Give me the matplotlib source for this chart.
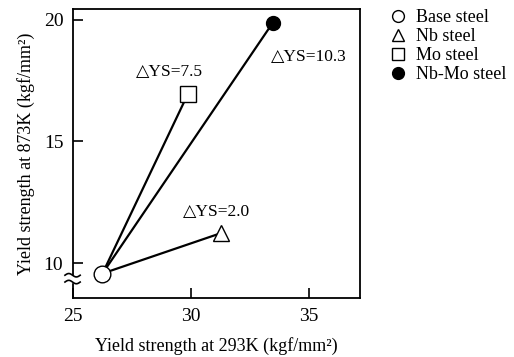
import numpy as np
import matplotlib
matplotlib.use("Agg")
import matplotlib.pyplot as plt
from matplotlib.lines import Line2D
import matplotlib.transforms as mtransforms

plt.rcParams["font.family"] = ["Liberation Serif", "DejaVu Sans"]

# data (kgf/mm^2)
steels = ["Base steel", "Nb steel", "Mo steel", "Nb-Mo steel"]
ys_293 = [26.25, 31.27, 29.87, 33.47]
ys_873 = [9.57, 11.23, 16.95, 19.88]
markers = ["o", "^", "s", "o"]
fills = ["white", "white", "white", "black"]
sizes = [12, 11, 11, 10]
delta_labels = [None, "△YS=2.0", "△YS=7.5", "△YS=10.3"]
label_pos = [None, (29.66, 12.10), (27.67, 17.86), (33.39, 18.48)]

fig = plt.figure(figsize=(5.14, 3.57), dpi=100)
ax = fig.add_axes([0.142, 0.165, 0.558, 0.810])

# lines from base steel to each alloyed steel
for i in range(1, 4):
    ax.plot([ys_293[0], ys_293[i]], [ys_873[0], ys_873[i]], color="k", lw=1.6,
            zorder=2)

for i in range(4):
    ax.plot(ys_293[i], ys_873[i], marker=markers[i], ms=sizes[i],
            mfc=fills[i], mec="k", mew=1.0, ls="none", zorder=3)
    if delta_labels[i]:
        ax.text(label_pos[i][0], label_pos[i][1], delta_labels[i], fontsize=12.5,
                va="center", ha="left")

ax.set_xlim(25, 37.16)
ax.set_ylim(8.56, 20.45)
ax.set_xticks([25, 30, 35])
ax.set_yticks([10, 15, 20])
ax.tick_params(direction="in", length=7, width=1.2, labelsize=14, pad=7,
               top=False, right=False)
for sp in ax.spines.values():
    sp.set_linewidth(1.3)

ax.set_xlabel("Yield strength at 293K (kgf/mm²)", fontsize=13, labelpad=9)
ax.set_ylabel("Yield strength at 873K (kgf/mm²)", fontsize=13, labelpad=6)

# axis break mark on y axis
trans = mtransforms.blended_transform_factory(ax.transAxes, ax.transData)
xs = np.linspace(-0.028, 0.025, 40)
wig = 0.07 * np.sin((xs + 0.028) / 0.053 * 2 * np.pi)
ax.fill_between([-0.01, 0.01], 9.24, 9.48, color="white", transform=trans,
                clip_on=False, zorder=4)
for y0 in (9.50, 9.22):
    ax.plot(xs, y0 + wig, color="k", lw=1.2, transform=trans, clip_on=False,
            zorder=5)

# legend
handles = [Line2D([], [], marker=markers[i], ms=8.5, mfc=fills[i], mec="k",
                  mew=1.0, ls="none") for i in range(4)]
fig.legend(handles, steels, loc="upper left", bbox_to_anchor=(0.757, 0.975),
           frameon=False, prop={"family": "Liberation Serif", "size": 13},
           handletextpad=0.5, labelspacing=0.12, handlelength=1.0,
           borderaxespad=0, borderpad=0)

fig.savefig("out.png", dpi=100)
